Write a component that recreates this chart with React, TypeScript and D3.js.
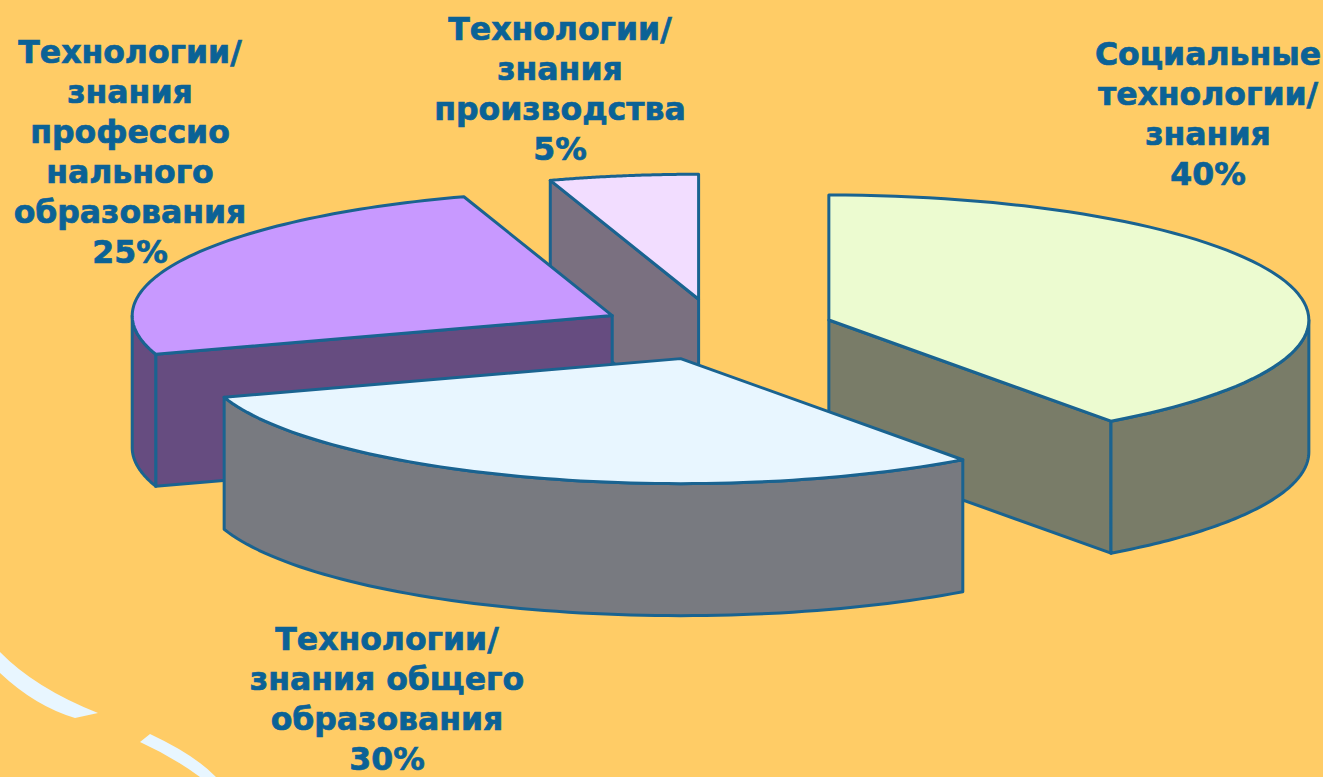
import React from "react";
import * as d3 from "d3";

const W = 1323;
const H = 777;

const sliceNames = ["Социальные", "Общего", "Профессионального", "Производства"];
const sliceValues = [40, 30, 25, 5];
const topColors = ["#ECFBD0", "#E8F6FF", "#C899FF", "#F2DDFF"];
const wallColors = ["#797C68", "#787A80", "#664C80", "#7A7080"];
const drawOrder = [3, 2, 0, 1];

const labelLines = [
  ["Социальные", "технологии/", "знания", "40%"],
  ["Технологии/", "знания общего", "образования", "30%"],
  ["Технологии/", "знания", "профессио", "нального", "образования", "25%"],
  ["Технологии/", "знания", "производства", "5%"],
];
const labelCenters = [
  [1208, 65],
  [387, 650],
  [130, 63],
  [560, 40],
];
const lineGap = 40;

const CX = 717;
const CY = 329.5;
const RX = 480;
const RY = 125;
const DEPTH = 132;
const EXPLODE = 0.245;
const EDGE = "#1A6390";
const TEXT = "#0B6296";
const BG = "#FFCC66";

const pie = d3.pie<number>().sort(null).startAngle(0).endAngle(2 * Math.PI);
const arcs = pie(sliceValues);
const pt = (c: number[], a: number, r = 1): [number, number] => [
  c[0] + RX * r * Math.sin(a),
  c[1] - RY * r * Math.cos(a),
];
const line = d3.line<[number, number]>();
const down = (p: [number, number]): [number, number] => [p[0], p[1] + DEPTH];
const sampleAngles = (a0: number, a1: number) =>
  d3.range(0, 73).map((i) => a0 + ((a1 - a0) * i) / 72);

function Slice({ i }: { i: number }) {
  const { startAngle: a0, endAngle: a1 } = arcs[i];
  const mid = (a0 + a1) / 2;
  const c = pt([CX, CY], mid, EXPLODE);
  const faces: React.ReactNode[] = [];
  const quad = (a: number, key: string) => {
    const p = pt(c, a);
    faces.push(
      <path
        key={key}
        d={line([c, p, down(p), down(c)]) + "Z"}
        fill={wallColors[i]}
        stroke={EDGE}
        strokeWidth={3}
        strokeLinejoin="round"
      />
    );
  };
  if (Math.sin(a0) < -1e-6) quad(a0, "s");
  if (Math.sin(a1) > 1e-6) quad(a1, "e");
  const w0 = Math.max(a0, Math.PI / 2);
  const w1 = Math.min(a1, (3 * Math.PI) / 2);
  let wall = null;
  if (w1 > w0) {
    const rim = sampleAngles(w0, w1).map((a) => pt(c, a));
    wall = (
      <path
        d={line([...rim, ...rim.map(down).reverse()]) + "Z"}
        fill={wallColors[i]}
        stroke={EDGE}
        strokeWidth={3}
        strokeLinejoin="round"
      />
    );
  }
  const top = [c, ...sampleAngles(a0, a1).map((a) => pt(c, a))];
  return (
    <g data-name={sliceNames[i]}>
      {faces}
      {wall}
      <path
        d={line(top) + "Z"}
        fill={topColors[i]}
        stroke={EDGE}
        strokeWidth={3}
        strokeLinejoin="round"
      />
    </g>
  );
}

export default function App() {
  return (
    <svg
      width={W}
      height={H}
      viewBox={`0 0 ${W} ${H}`}
      style={{ position: "fixed", left: 0, top: 0, display: "block" }}
    >
      <rect width={W} height={H} fill={BG} />
      <path
        d="M0,652 Q35,688 98,713 L75,718 Q35,706 0,673 Z M140,742 L150,734 Q195,755 216,777 L200,777 Q173,757 140,742 Z"
        fill="#E8F6FF"
      />
      {drawOrder.map((i) => (
        <Slice key={i} i={i} />
      ))}
      {labelLines.map((lines, i) => (
        <text
          key={i}
          textAnchor="middle"
          fontFamily="'DejaVu Sans', Verdana, sans-serif"
          fontWeight={700}
          fontSize={31.5}
          fill={TEXT}
          stroke={TEXT}
          strokeWidth={0.7}
        >
          {lines.map((l, j) => (
            <tspan key={j} x={labelCenters[i][0]} y={labelCenters[i][1] + j * lineGap}>
              {l}
            </tspan>
          ))}
        </text>
      ))}
    </svg>
  );
}
